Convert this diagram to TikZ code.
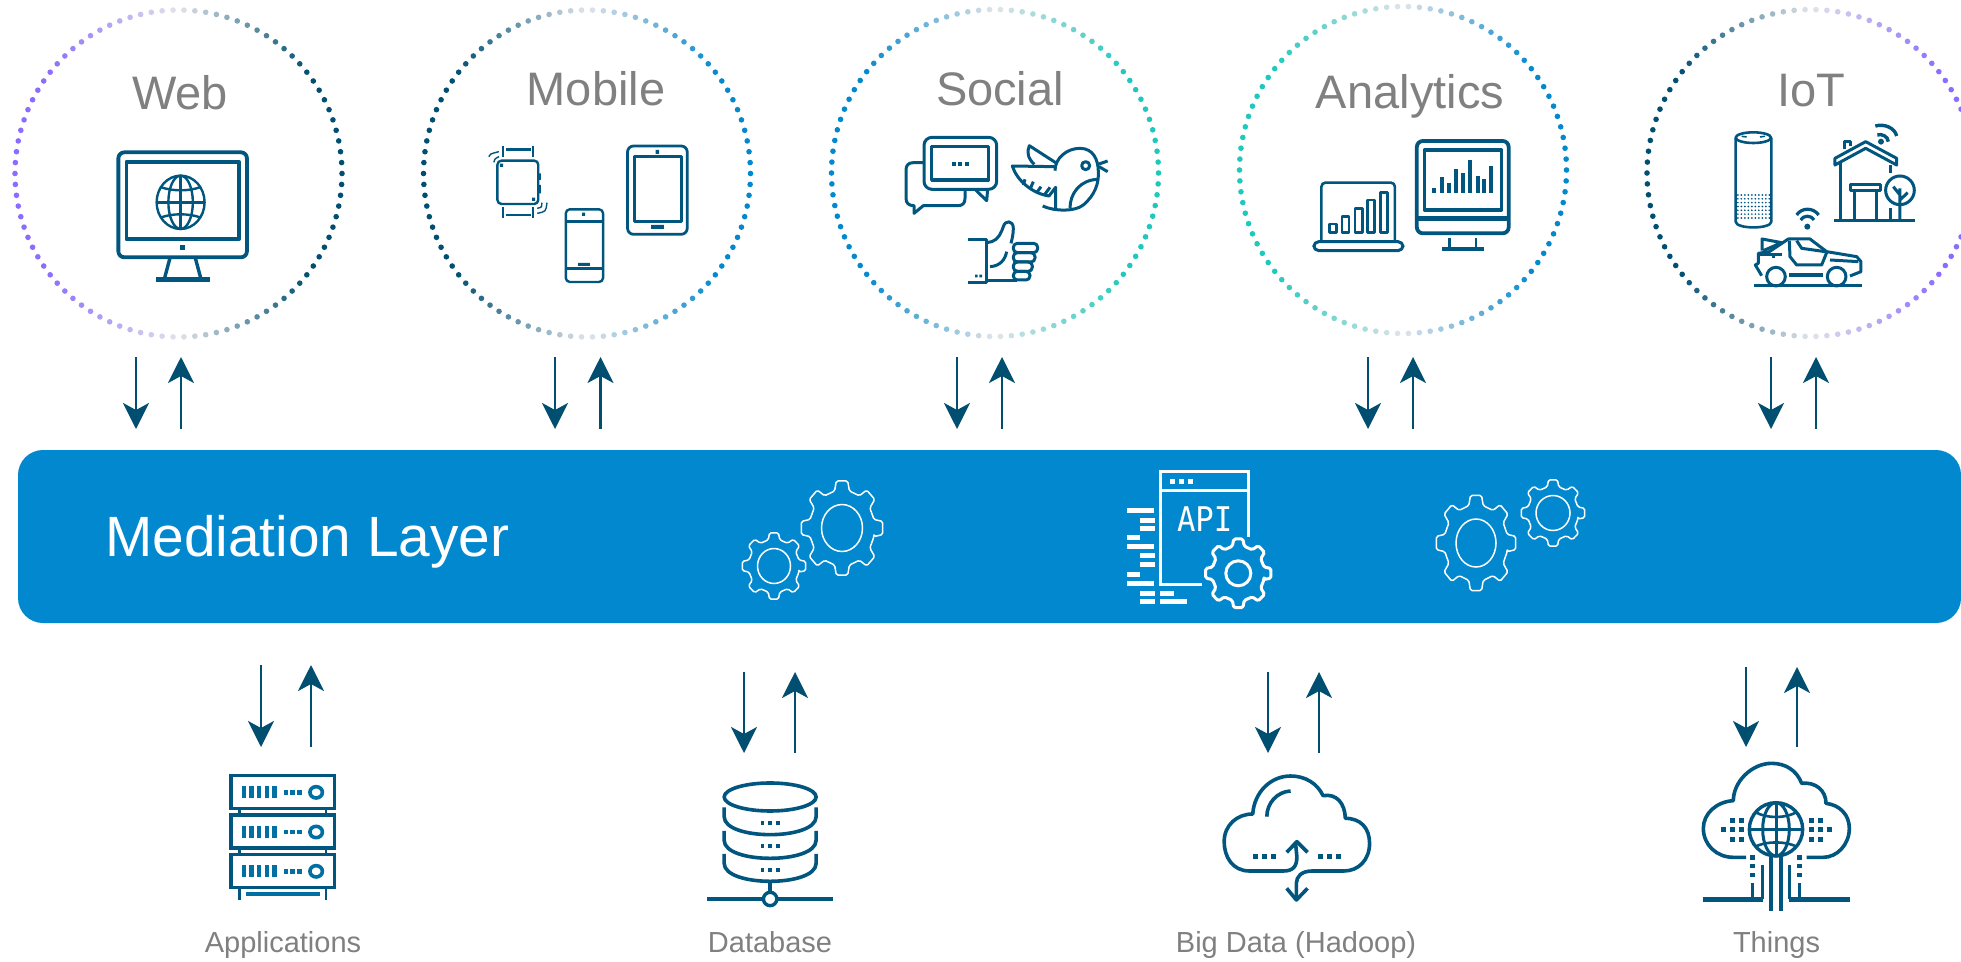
\documentclass[tikz,border=0pt]{standalone}
\usepackage{fontspec}
\setmainfont{Liberation Sans}
\newfontfamily\apifont{DejaVu Sans Mono}
\usetikzlibrary{arrows.meta,calc}
\definecolor{pale}{HTML}{E2E4E8}
\definecolor{ringpurple}{HTML}{8B6CFF}
\definecolor{ringdark}{HTML}{004F71}
\definecolor{ringblue}{HTML}{0288CE}
\definecolor{ringteal}{HTML}{1FC8BC}
\definecolor{icon}{HTML}{00567F}
\definecolor{iconb}{HTML}{006FA3}
\definecolor{titlegray}{HTML}{808080}
\definecolor{flowc}{HTML}{004F71}
\tikzset{
  flow/.style={draw=flowc,line width=2.6pt,-{Stealth[length=26pt,width=26pt,inset=7pt]}},
  ic/.style={draw=icon,line width=3pt,line join=round,fill=none},
  icthick/.style={draw=icon,line width=4.4pt,line join=miter,fill=none},
  icthin/.style={draw=icon,line width=1.8pt,line join=round,fill=none},
  gearline/.style={draw=white,line width=1.5pt,line join=round},
  title/.style={text=titlegray,font=\fontsize{47}{47}\selectfont,anchor=base,inner sep=0pt},
  caption/.style={text=titlegray,font=\fontsize{29}{29}\selectfont,anchor=base,inner sep=0pt},
  zoomA/.style={x=0.5102pt,y=-0.3333pt},
  zoomT/.style={x=0.3333pt,y=-0.3333pt},
  zoomB/.style={x=0.4464pt,y=-0.3333pt},
  zoomC/.style={x=0.4847pt,y=-0.3333pt},
}
% ring of dots: cx cy left right name
\newcommand{\dotring}[5]{%
  \coordinate (#5) at (#1,#2);
  \foreach \ii in {0,...,93}{%
    \pgfmathsetmacro\ang{\ii*3.82979}%
    \pgfmathsetmacro\cc{cos(\ang)}%
    \pgfmathsetmacro\mixt{min(100,abs(\cc)*125)}%
    \pgfmathparse{\cc<0?1:0}%
    \ifnum\pgfmathresult=1 \colorlet{dotc}{#3!\mixt!pale}\else\colorlet{dotc}{#4!\mixt!pale}\fi
    \fill[dotc] ($(#5)+(\ang:163.5pt)$) circle[radius=2.8pt];
  }%
}
\newcommand{\arrowpair}[5]{%
  \coordinate (#1-da) at (#2,#4); \coordinate (#1-db) at (#2,#5);
  \coordinate (#1-ua) at (#3,#5); \coordinate (#1-ub) at (#3,#4);
  \draw[flow] (#1-da) -- (#1-db);
  \draw[flow] (#1-ua) -- (#1-ub);
}
% gear: cx cy Rx Ry holeRx holeRy (px), style
\newcommand{\gear}[7]{%
  \begin{scope}[shift={(#1,#2)},x=#3pt,y=#4pt]
    \draw[#7,rounded corners=1.6pt] ({0.80*cos(-13)},{0.80*sin(-13)})
      \foreach \aa in {0,45,...,315}{
        -- ({0.80*cos(\aa-13)},{0.80*sin(\aa-13)})
        -- ({cos(\aa-8)},{sin(\aa-8)})
        -- ({cos(\aa+8)},{sin(\aa+8)})
        -- ({0.80*cos(\aa+13)},{0.80*sin(\aa+13)})
      } -- cycle;
  \end{scope}
  \draw[#7] (#1,#2) ellipse[x radius=#5pt,y radius=#6pt];
}
\begin{document}
\begin{tikzpicture}[x=1pt,y=-1pt]
\useasboundingbox (0,0) rectangle (1961,961);
\clip (0,0) rectangle (1961,961);
\fill[white] (0,0) rectangle (1961,961);
% rings
\dotring{178.5}{173.5}{ringpurple}{ringdark}{ringweb}
\dotring{587}{173.5}{ringdark}{ringblue}{ringmobile}
\dotring{995}{173}{ringblue}{ringteal}{ringsocial}
\dotring{1403}{170}{ringteal}{ringblue}{ringanalytics}
\dotring{1810.5}{173}{ringdark}{ringpurple}{ringiot}
% titles
\node[title] (tweb) at (180,109) {Web};
\node[title] (tmobile) at (596,105) {Mobile};
\node[title] (tsocial) at (1000,105) {Social};
\node[title] (tanalytics) at (1410,108) {Analytics};
\node[title] (tiot) at (1811,106) {IoT};
% arrows
\arrowpair{a1}{136}{181}{357}{429}
\arrowpair{a2}{555}{600.5}{357}{429}
\arrowpair{a3}{957}{1002}{357}{429}
\arrowpair{a4}{1368}{1413}{357}{429}
\arrowpair{a5}{1771}{1816}{357}{429}
\arrowpair{b1}{261}{311}{665}{747}
\arrowpair{b2}{744}{795}{672}{753}
\arrowpair{b3}{1268}{1319}{672}{753}
\arrowpair{b4}{1746}{1797}{667}{747}
% bar
\fill[ringblue,rounded corners=25pt] (18,450) rectangle (1961,623);
\node[text=white,font=\fontsize{56.8}{57}\selectfont,anchor=base west,inner sep=0pt] (med) at (105,556) {Mediation Layer};
% captions
\node[caption] (capp) at (283,952) {Applications};
\node[caption] (cdb) at (770,952) {Database};
\node[caption] (cbig) at (1296,952) {Big Data (Hadoop)};
\node[caption] (cthings) at (1776.5,952) {Things};
% gears
\gear{842}{528}{41}{47.5}{20.5}{23.5}{gearline}
\gear{774}{566}{32}{33.5}{16.5}{17.5}{gearline}
\gear{1476}{543}{40}{48}{20}{24}{gearline}
\gear{1553}{513}{32}{33.5}{17}{17.5}{gearline}
% API icon
\begin{scope}[shift={(1100,465)},zoomT]
  \draw[white,line width=3pt] (445,215) -- (445,20) -- (182,20) -- (182,358) -- (305,358);
  \draw[white,line width=3pt] (182,75) -- (445,75);
  \foreach \xx in {217,245,272}{\fill[white] ({\xx-7.5},41) rectangle ({\xx+7.5},57);}
  \foreach \yy/\xa/\xb in {136/82/162,165/120/165,190/120/165,217/82/120,245/82/162,273/120/165,300/120/165,329/82/120,356/82/162,385/120/165,385/180/222,411/120/165,411/180/260}{
    \fill[white] (\xa,{\yy-7.5}) rectangle (\xb,{\yy+7.5});}
  \node[text=white,font=\apifont\fontsize{34}{34}\selectfont,xscale=0.9,anchor=base,inner sep=0pt] (apit) at (314,200) {API};
\end{scope}
\gear{1238.3}{573.3}{33}{34.7}{12.5}{12.5}{draw=white,line width=3pt,line join=round,fill=ringblue}
% Web icon
\begin{scope}[zoomA]
  \draw[ic,line width=3.8pt,rounded corners=6pt] (232,457) rectangle (484,772);
  \draw[ic,line width=3.8pt] (248,485) rectangle (468,718);
  \draw[ic,line width=3.4pt] (333,775) -- (323,832) (383,775) -- (393,832);
  \draw[icthick] (306,838) -- (411,838);
  \fill[icon] (353,735) rectangle (363,750);
  \begin{scope}[shift={(354,607)}]
    \draw[ic,line width=2.4pt] (0,0) ellipse[x radius=47,y radius=80];
    \draw[ic,line width=2.4pt] (0,0) ellipse[x radius=24,y radius=80];
    \draw[ic,line width=2.4pt] (0,-80) -- (0,80) (-47,0) -- (47,0);
    \draw[ic,line width=2.4pt] (-38,-45) .. controls (-15,-33) and (15,-33) .. (38,-45);
    \draw[ic,line width=2.4pt] (-38,45) .. controls (-15,33) and (15,33) .. (38,45);
  \end{scope}
\end{scope}
% Mobile icons
\begin{scope}[zoomA]
  \draw[ic,line width=2.4pt,rounded corners=4pt] (975,482) rectangle (1055,612);
  \draw[ic,line width=2.2pt] (986,438) -- (986,472) (1045,438) -- (1045,472) (986,622) -- (986,655) (1045,622) -- (1045,655);
  \draw[ic,line width=2.8pt] (992,449) -- (1040,449) (992,645) -- (1040,645);
  \fill[icon] (1055,520) rectangle (1060,540) (1055,555) rectangle (1060,580);
  \fill[icon] (980,491) rectangle (986,501) (1043,593) rectangle (1049,603);
  \draw[icthin,line width=1.4pt] (958,470) .. controls (960,462) .. (978,455) (968,487) .. controls (970,476) .. (978,470);
  \draw[icthin,line width=1.4pt] (1053,640) .. controls (1070,635) .. (1072,608) (1053,625) .. controls (1062,622) .. (1062,608);
  \draw[ic,line width=2.4pt,rounded corners=4pt] (1109,628) rectangle (1182,846);
  \draw[ic,line width=2.4pt] (1109,665) -- (1182,665) (1109,805) -- (1182,805);
  \fill[icon] (1141,638) rectangle (1147,648) (1133,789) rectangle (1156,798);
  \draw[ic,line width=2.8pt,rounded corners=6pt] (1230,438) rectangle (1347,703);
  \draw[ic,line width=2.8pt] (1243,470) rectangle (1336,665);
  \fill[icon] (1285,450) rectangle (1292,462) (1276,675) rectangle (1301,687);
\end{scope}
% Social icons
\begin{scope}[shift={(895,130)},zoomT]
  \draw[ic,rounded corners=8pt] (87,22) rectangle (305,178);
  \draw[ic,line width=3.6pt] (110,50) rectangle (280,150);
  \foreach \xx in {176,196,216}{\fill[icon] ({\xx-6},95) rectangle ({\xx+6},107);}
  \draw[ic] (240,178) -- (275,212) -- (278,178);
  \draw[ic] (87,98) -- (55,98) .. controls (40,98) and (33,106) .. (33,120) -- (33,205) .. controls (33,220) and (42,227) .. (57,227) -- (57,250) -- (85,227) -- (188,227) .. controls (203,227) and (210,220) .. (210,205) -- (210,180);
  % bird
  \draw[ic] (480,122) .. controls (480,85) and (515,55) .. (555,55) .. controls (595,55) and (610,90) .. (610,125) .. controls (612,160) and (600,195) .. (565,225) .. controls (540,245) and (480,245) .. (443,228);
  \draw[ic] (612,102) -- (638,93) (612,110) -- (638,125);
  \draw[ic] (572,107) circle[radius=12];
  \draw[ic] (525,235) .. controls (525,190) and (555,150) .. (608,148);
  \draw[ic] (482,98) -- (403,47) .. controls (395,65) and (398,85) .. (418,103);
  \draw[ic] (478,110) -- (352,108) .. controls (365,150) and (410,190) .. (462,198) -- (482,172) -- (482,240);
  \draw[ic] (385,165) -- (390,148) (405,178) -- (415,155) (425,188) -- (438,170) (448,195) -- (465,172);
  % thumb
  \draw[ic] (220,329) -- (275,329) -- (275,458) -- (220,458);
  \draw[ic] (275,338) -- (290,335) .. controls (310,330) and (320,305) .. (325,290) .. controls (330,270) and (355,270) .. (355,295) .. controls (355,310) and (352,325) .. (348,340);
  \draw[ic] (275,452) -- (365,452);
  \foreach \ya/\yb/\xb in {340/368/428,368/396/420,396/424/412,424/450/405}{
    \draw[ic,rounded corners=4pt] (355,\ya) rectangle (\xb,\yb);}
  \draw[ic] (335,365) .. controls (330,390) and (315,408) .. (285,410);
  \fill[icon] (240,434) rectangle (248,442) (253,434) rectangle (261,442);
\end{scope}
% Analytics icons
\begin{scope}[shift={(800,0)},zoomA]
  \draw[ic,line width=2.6pt,rounded corners=4pt] (1022,725) -- (1022,548) -- (1166,548) -- (1166,725);
  \draw[ic,rounded corners=5pt] (1007,725) -- (1182,725) -- (1182,752) -- (1007,752) -- cycle;
  \foreach \xa/\ya in {1038/672,1062/650,1088/625,1112/600,1138/578}{
    \draw[ic,line width=2.6pt] (\xa,\ya) rectangle ({\xa+14},697);}
  \draw[ic,line width=3.8pt,rounded corners=6pt] (1209,423) rectangle (1389,700);
  \draw[ic,line width=3.6pt] (1224,450) rectangle (1375,630);
  \draw[ic,line width=4.4pt] (1209,656) -- (1389,656);
  \draw[ic,line width=2.6pt] (1273,715) -- (1273,745) (1325,715) -- (1325,745);
  \draw[icthick] (1258,747) -- (1340,747);
  \foreach \xa/\ya in {1243/565,1258/532,1272/550,1286/508,1300/520,1313/480,1328/528,1341/538,1354/498}{
    \fill[icon] ({\xa-4},\ya) rectangle ({\xa+4},578);}
\end{scope}
% IoT icons
\begin{scope}[shift={(1560,0)},zoomT]
  \draw[ic,line width=2.6pt] (580,413) ellipse[x radius=53,y radius=16];
  \draw[ic,line width=2.6pt] (527,413) -- (527,665) .. controls (527,688) and (634,688) .. (634,665) -- (634,413);
  \draw[ic,line width=1.5pt] (545,409) -- (560,411) (600,411) -- (615,409);
  \foreach \gx in {0,...,9}{\foreach \gy in {0,...,6}{
     \fill[icon] ({533.5+\gx*10.5},{585+\gy*11.5}) circle[radius=2.8];}}
  % house
  \draw[ic] (825,495) -- (825,475) -- (917,425) -- (1010,475) -- (1010,495) -- (917,445) -- cycle;
  \draw[ic] (855,448) -- (855,425) -- (873,425) -- (873,437);
  \draw[ic] (842,490) -- (842,660) (993,495) -- (993,518) (993,625) -- (993,660);
  \draw[ic] (822,661) -- (1066,661);
  \draw[ic] (873,555) rectangle (962,573);
  \draw[ic] (883,573) -- (883,660) (950,573) -- (950,660);
  \draw[ic] (1020,571) circle[radius=43];
  \draw[ic] (1020,565) -- (1020,660) (1000,560) -- (1020,585) (1043,578) -- (1020,600);
  \fill[icon] (963,425) circle[radius=9];
  \draw[ic,line width=3.4pt] (952,405) .. controls (965,400) and (985,410) .. (985,425);
  \draw[ic,line width=3.4pt] (946,378) .. controls (975,370) and (1005,385) .. (1010,408);
  % car
  \fill[icon] (742,680) circle[radius=9];
  \draw[ic,line width=3.2pt] (722,660) .. controls (730,645) and (755,645) .. (762,660);
  \draw[ic,line width=3.2pt] (710,645) .. controls (725,622) and (760,622) .. (776,645);
  \draw[ic,line width=3.6pt] (582,857) -- (905,857);
  \draw[ic] (648,830) circle[radius=28] (830,830) circle[radius=28];
  \draw[ic,line width=3.6pt] (688,825) -- (790,825);
  \draw[ic] (605,827) -- (586,795) -- (595,790) -- (595,760) -- (628,755) -- (685,717) -- (750,717) -- (800,755) -- (890,770) -- (903,785) -- (903,815) -- (870,828);
  \draw[ic] (606,752) -- (606,717) -- (665,728) -- (610,752);
  \draw[ic] (688,722) -- (690,770) -- (710,795) -- (785,795) -- (800,758);
  \draw[ic] (710,722) -- (725,745) -- (795,755);
  \draw[ic] (810,780) -- (895,785);
  \draw[ic] (595,765) -- (665,765) (640,760) -- (640,775);
\end{scope}
% Server
\begin{scope}[shift={(180,650)},zoomB]
  \foreach \yy in {376,495,613}{
    \draw[icon,line width=3.4pt] (114,\yy) rectangle (346,{\yy+99});
    \foreach \xx in {143,160,177,195,212}{\fill[iconb] ({\xx-5},{\yy+32}) rectangle ({\xx+5},{\yy+68});}
    \foreach \xx in {237,252,268}{\fill[iconb] ({\xx-5},{\yy+44}) rectangle ({\xx+5},{\yy+58});}
    \draw[iconb,line width=3.6pt] (305,{\yy+51}) ellipse[x radius=14,y radius=17];
  }
  \draw[icon,line width=2.8pt] (133,475) -- (133,495) (327,475) -- (327,495) (133,594) -- (133,613) (327,594) -- (327,613) (133,712) -- (133,750) (327,712) -- (327,750);
  \fill[iconb] (147,726) rectangle (314,738);
\end{scope}
% Database
\begin{scope}[shift={(180,650)},zoomB]
  \draw[ic,line width=3.6pt] (1322,441) ellipse[x radius=103,y radius=42];
  \foreach \yy in {472,543,612}{
    \draw[ic,line width=3.6pt] (1219,\yy) -- (1219,{\yy+28}) .. controls (1219,{\yy+100}) and (1425,{\yy+100}) .. (1425,{\yy+28}) -- (1425,\yy);}
  \foreach \yy in {518,587,659}{\foreach \xx in {1305,1322,1340}{
     \fill[icon] ({\xx-4},{\yy-6}) rectangle ({\xx+4},{\yy+6});}}
  \draw[ic,line width=3.4pt] (1322,695) -- (1322,728);
  \draw[ic,line width=3.4pt] (1322,747) ellipse[x radius=15,y radius=20];
  \draw[icthick] (1180,747) -- (1307,747) (1338,747) -- (1463,747);
\end{scope}
% Big data cloud
\begin{scope}[shift={(1150,650)},zoomC]
  \draw[ic,line width=3.6pt] (300,575) -- (303,620) .. controls (303,650) and (295,663) .. (275,663) -- (205,663) .. controls (170,663) and (153,620) .. (153,575) .. controls (153,525) and (180,492) .. (212,492) .. controls (215,425) and (250,378) .. (290,378) .. controls (320,378) and (345,400) .. (357,437) .. controls (385,430) and (402,460) .. (403,505) .. controls (435,505) and (453,535) .. (453,580) .. controls (453,630) and (430,663) .. (400,663) -- (335,663) .. controls (312,663) and (302,680) .. (302,700) -- (302,750);
  \draw[ic,line width=3.6pt] (282,607) -- (303,575) -- (325,607);
  \draw[ic,line width=3.6pt] (282,715) -- (302,750) -- (325,715);
  \draw[ic,line width=3.6pt] (241,500) .. controls (241,460) and (262,425) .. (290,423);
  \foreach \xx in {218,236,254,352,370,388}{\fill[icon] ({\xx-5},612) rectangle ({\xx+5},627);}
\end{scope}
% Things cloud
\begin{scope}[shift={(1700,760)},zoomT]
  \draw[ic,line width=3.6pt] (138,292) -- (100,292) .. controls (50,292) and (10,255) .. (10,205) .. controls (10,160) and (50,125) .. (100,122) .. controls (100,65) and (155,10) .. (215,10) .. controls (255,10) and (290,30) .. (305,70) .. controls (345,65) and (378,90) .. (378,130) .. controls (420,135) and (448,165) .. (448,205) .. controls (448,255) and (410,292) .. (370,292) -- (320,292);
  \begin{scope}[shift={(228,208)}]
    \draw[ic,line width=3.4pt] (0,0) circle[radius=80];
    \draw[ic,line width=3pt] (0,0) ellipse[x radius=40,y radius=80];
    \draw[ic,line width=3pt] (-80,0) -- (80,0) (0,-80) -- (0,80);
    \draw[ic,line width=2.6pt] (-62,-52) .. controls (-30,-32) and (30,-32) .. (62,-52);
    \draw[ic,line width=2.6pt] (-62,52) .. controls (-30,35) and (30,35) .. (62,52);
  \end{scope}
  \draw[ic,line width=4pt] (214,290) -- (214,452) (242,290) -- (242,452);
  \draw[ic,line width=3.4pt] (187,315) -- (187,418) (268,315) -- (268,418);
  \draw[icthick,line width=4.6pt] (8,418) -- (189,418) (266,418) -- (450,418);
  \draw[ic,line width=3.6pt] (158,370) -- (158,414) (298,370) -- (298,414);
  \foreach \xx/\yy in {158/292,158/318,158/345,298/292,298/318,298/345,
     97/181,124/181,70/208,97/208,124/208,97/238,124/238,
     335/181,362/181,335/208,362/208,389/208,335/238,362/238}{
     \fill[icon] ({\xx-7},{\yy-7}) rectangle ({\xx+7},{\yy+7});}
\end{scope}
\end{tikzpicture}
\end{document}
